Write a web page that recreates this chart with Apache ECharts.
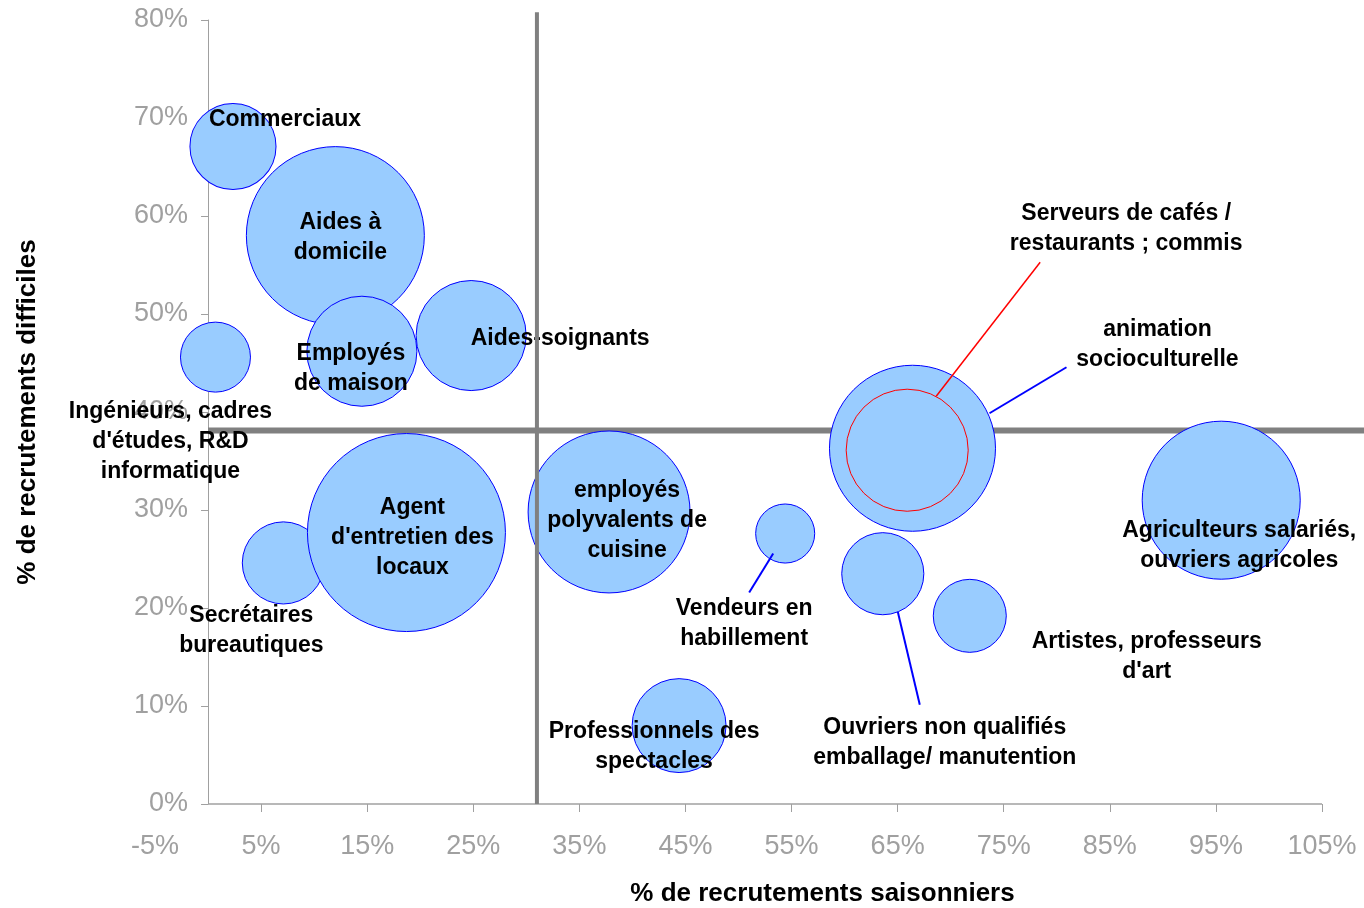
<!DOCTYPE html>
<html><head><meta charset="utf-8">
<script src="https://cdn.jsdelivr.net/npm/echarts@6/dist/echarts.min.js"></script>
<style>html,body{margin:0;padding:0;background:#fff}#c{width:1364px;height:908px}</style>
</head><body><div id="c"></div>
<script>
// ---- data ----
const categories = ["Commerciaux", "Aides à\ndomicile", "Employés\nde maison", "Aides-soignants",
  "Ingénieurs, cadres\nd'études, R&D\ninformatique", "Secrétaires\nbureautiques",
  "Agent\nd'entretien des\nlocaux", "employés\npolyvalents de\ncuisine", "Vendeurs en\nhabillement",
  "Professionnels des\nspectacles", "animation\nsocioculturelle", "Serveurs de cafés /\nrestaurants ; commis",
  "Ouvriers non qualifiés\nemballage/ manutention", "Artistes, professeurs\nd'art",
  "Agriculteurs salariés,\nouvriers agricoles"];
const seasonalPct  = [2.35, 12.0, 14.5, 24.8, 0.7, 7.1, 18.7, 37.8, 54.4, 44.4, 66.4, 65.9, 63.6, 71.8, 95.5];
const difficultPct = [67.1, 58.0, 46.2, 47.8, 45.6, 24.6, 27.7, 29.8, 27.6, 8.0, 36.3, 36.1, 23.5, 19.2, 31.0];
const volume       = [18.9, 80.8, 30.9, 30.9, 12.5, 17.2, 100, 66.9, 8.9, 22.5, 70.3, 38.0, 17.2, 13.6, 63.7];
const xTickLabels = [-5, 5, 15, 25, 35, 45, 55, 65, 75, 85, 95, 105];
const yTickLabels = [0, 10, 20, 30, 40, 50, 60, 70, 80];
const refX = 31;     // average seasonal share
const refY = 38.1;   // average difficulty share

// ---- layout / style (not data) ----
const W = 1364, H = 908;
const GRID = {left: 155, right: 42, top: 20, bottom: 104};
const labelOffsets = [[52,-27],[5,2],[-11,17],[89,3],[-45,85],[-32,68],[6,5],[18,9],[-41,90],[-25,21],[245,-104],[219,-222],[62,169],[177,41],[18,45]];
const redIdx = 11;
const leaders = [
  {i: 11, from: [29,-54], to: [133,-188], color: '#ff0000', w: 1.5},
  {i: 10, from: [77,-35], to: [154,-81], color: '#0000ff', w: 2},
  {i: 8,  from: [-12,20], to: [-36,59], color: '#0000ff', w: 2},
  {i: 12, from: [15,38],  to: [37,131], color: '#0000ff', w: 2}
];
const FONT = '"Liberation Sans", Arial, sans-serif';
const GRAY = '#a0a0a0';
const xMin = xTickLabels[0], xMax = xTickLabels[xTickLabels.length - 1];
// y axis sits at x = 0
const yAxisShift = (0 - xMin) / (xMax - xMin) * (W - GRID.left - GRID.right);

const bubbles = categories.map((n, i) => ({
  name: n,
  value: [seasonalPct[i], difficultPct[i], volume[i]],
  itemStyle: i === redIdx ? {borderColor: '#ff0000'} : undefined,
  label: {offset: labelOffsets[i]}
}));

const chart = echarts.init(document.getElementById('c'));
chart.setOption({
  animation: false,
  backgroundColor: '#fff',
  grid: Object.assign({containLabel: false, outerBoundsMode: 'none'}, GRID),
  xAxis: {
    type: 'value', min: xMin, max: xMax, interval: 10,
    splitLine: {show: false},
    axisLine: {show: false},
    axisTick: {show: true, length: 8, lineStyle: {color: GRAY}, customValues: xTickLabels.slice(1)},
    axisLabel: {color: GRAY, fontSize: 27, fontFamily: FONT, margin: 29, formatter: '{value}%', customValues: xTickLabels},
    name: '% de recrutements saisonniers', nameLocation: 'middle', nameGap: 77,
    nameTextStyle: {color: '#000', fontWeight: 'bold', fontSize: 26, fontFamily: FONT, padding: [0, 0, 0, 168]}
  },
  yAxis: {
    type: 'value', min: yTickLabels[0], max: yTickLabels[yTickLabels.length - 1], interval: 10,
    offset: -yAxisShift,
    splitLine: {show: false},
    axisLine: {show: true, onZero: false, lineStyle: {color: GRAY, width: 1}},
    axisTick: {show: true, length: 7, lineStyle: {color: GRAY}},
    axisLabel: {color: GRAY, fontSize: 27, fontFamily: FONT, margin: 20, formatter: '{value}%'},
    name: '% de recrutements difficiles', nameLocation: 'middle', nameGap: 167,
    nameTextStyle: {color: '#000', fontWeight: 'bold', fontSize: 26, fontFamily: FONT}
  },
  series: [
    {
      type: 'line', z: 1, clip: false, showSymbol: false, silent: true,
      data: [[0, 0], [xMax, 0]],
      lineStyle: {color: GRAY, width: 1.5}
    },
    {
      type: 'scatter', z: 2, clip: false,
      data: bubbles,
      symbolSize: v => 19.8 * Math.sqrt(v[2]),
      itemStyle: {color: '#99ccff', borderColor: '#0000ff', borderWidth: 1, opacity: 1},
      label: {
        show: true, position: 'inside', formatter: p => p.name,
        color: '#000', fontWeight: 'bold', fontSize: 23, lineHeight: 30, fontFamily: FONT, align: 'center'
      }
    },
    {
      type: 'line', z: 3, clip: false, showSymbol: false, silent: true,
      data: [[refX, 0], [refX, 80.8]],
      lineStyle: {color: '#808080', width: 4}
    }
  ]
});

// horizontal reference line (behind bubbles, runs to the right edge) and leader lines
const h0 = chart.convertToPixel({seriesIndex: 1}, [0, refY]);
const g = [{type: 'line', silent: true, z: 1, zlevel: 0,
  shape: {x1: h0[0], y1: h0[1], x2: W, y2: h0[1]},
  style: {stroke: '#808080', lineWidth: 6}}];
leaders.forEach(l => {
  const p = chart.convertToPixel({seriesIndex: 1}, [seasonalPct[l.i], difficultPct[l.i]]);
  g.push({type: 'line', z: 10, silent: true,
    shape: {x1: p[0] + l.from[0], y1: p[1] + l.from[1], x2: p[0] + l.to[0], y2: p[1] + l.to[1]},
    style: {stroke: l.color, lineWidth: l.w}});
});
chart.setOption({graphic: g});
</script></body></html>
